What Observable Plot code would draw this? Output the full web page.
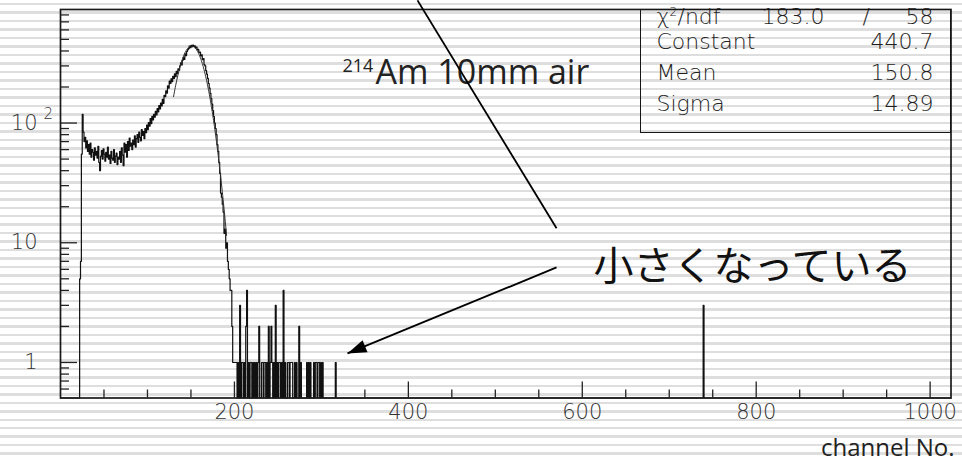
<!DOCTYPE html>
<html>
<head>
<meta charset="utf-8">
<script src="https://cdn.jsdelivr.net/npm/d3@7"></script>
<script src="https://cdn.jsdelivr.net/npm/@observablehq/plot@0.6"></script>
<style>
  html, body { margin: 0; padding: 0; }
  body {
    width: 962px; height: 461px; overflow: hidden;
    background: repeating-linear-gradient(to bottom,
      #ffffff 0px, #ffffff 3px, #dedede 3px, #dedede 5.5px, #ffffff 5.5px, #ffffff 8.48px);
  }
  #wrap { position: relative; width: 962px; height: 461px; }
  #wrap svg { display: block; background: transparent; overflow: visible; }
  #statbox {
    position: absolute; left: 639.5px; top: 8.5px; width: 311.5px; height: 124.5px;
    border: 1.5px solid #151515; box-sizing: border-box; pointer-events: none;
  }
</style>
</head>
<body>
<div id="wrap"><div id="statbox"></div></div>
<script>
// ---- spectrum: counts per channel, beginning at firstChannel ----
const firstChannel = 22;
const counts = [
  5, 7, 55, 118, 84,
  70, 76, 62, 71, 58, 66, 55, 68, 52, 60,
  57, 49, 62, 54, 58, 51, 64, 47, 40, 53,
  59, 50, 61, 55, 48, 57, 52, 63, 50, 54,
  46, 58, 51, 49, 60, 47, 53, 56, 45, 52,
  50, 58, 47, 62, 54, 44, 68, 57, 66, 52,
  70, 59, 75, 64, 68, 60, 72, 66, 78, 63,
  74, 80, 69, 84, 76, 71, 88, 79, 85, 74,
  90, 83, 96, 88, 101, 94, 109, 99, 114, 106,
  118, 112, 125, 117, 132, 124, 140, 131, 147, 139,
  158, 146, 170, 166, 186, 178, 204, 196, 224, 214,
  234, 222, 246, 236, 258, 244, 270, 258, 284, 276,
  300, 318, 306, 334, 352, 340, 378, 366, 396, 410,
  418, 440, 426, 446, 434, 448, 436, 442, 424, 430,
  408, 412, 388, 392, 364, 372, 338, 346, 308, 300,
  274, 256, 236, 214, 196, 177, 160, 144, 127, 113,
  100, 90, 80, 66, 58, 47, 38, 26, 24, 21,
  18, 12, 13, 9, 10, 7, 6, 5, 4, 4,
  2, 1, 1, 1, 1, 1, 0, 1, 0, 3,
  0, 1, 1, 0, 1, 0, 2, 4, 0, 1,
  0, 1, 1, 0, 1, 0, 1, 0, 1, 0,
  1, 2, 0, 0, 1, 1, 0, 1, 1, 0,
  1, 0, 2, 0, 1, 2, 1, 0, 1, 0,
  3, 0, 1, 0, 1, 1, 0, 1, 0, 4,
  0, 1, 0, 0, 1, 1, 0, 1, 1, 1,
  0, 0, 1, 0, 1, 0, 0, 2, 0, 1,
  0, 0, 0, 0, 0, 0, 1, 0, 1, 0,
  1, 0, 0, 0, 1, 0, 1, 1, 0, 1,
  1, 0, 1, 0, 1, 0, 0, 0, 0, 0,
  0, 0, 0, 0, 0, 0, 0, 0, 0, 1
];
// isolated entries far above the peak
const extraChannels = [739];
const extraCounts = [3];
const nChannels = 1024;

// ---- Gaussian fit results ----
const statNames = ["Constant", "Mean", "Sigma"];
const statValues = [440.7, 150.8, 14.89];
const chi2 = 183.0;
const ndf = 58;
const fitRange = [130, 191];

// ---- axes ----
const xMajor = [200, 400, 600, 800, 1000];
const xLabels = ["200", "400", "600", "800", "1000"];
const xMinor = [50, 100, 150, 250, 300, 350, 450, 500, 550, 650, 700, 750, 850, 900, 950];
const yMajor = [1, 10, 100];
const yLabelBase = ["1", "10", "10"];
const yLabelExp = ["", "", "2"];
const yMinor = [0.6, 0.7, 0.8, 0.9, 2, 3, 4, 5, 6, 7, 8, 9, 20, 30, 40, 50, 60, 70, 80, 90, 200, 300, 400, 500, 600, 700, 800];

// ---- pointers, in (channel, counts) ----
const pointerLine = [{x1: 410.5, y1: 1058, x2: 570.4, y2: 13.2}];
const pointerArrow = [{x1: 570.4, y1: 6.22, x2: 330, y2: 1.19}];

// ---- layout ----
const W = 962, H = 461;
const M = {top: 9, right: 11.5, bottom: 63.5, left: 60};
const frameW = W - M.left - M.right;
const frameH = H - M.top - M.bottom;
const yDomain = [0.505, 888];
const xDomain = [0, nChannels];

const axisFont = "'DejaVu Sans', sans-serif";
const textFont = "'Open Sans', 'Liberation Sans', sans-serif";

// histogram outline: one step per channel, empty channels sit on the floor
const binCount = new Array(nChannels).fill(0);
counts.forEach((n, i) => { binCount[firstChannel + i] = n; });
extraChannels.forEach((c, i) => { binCount[c] = extraCounts[i]; });
const steps = binCount.map((n, ch) => ({ch, n}));
steps.push({ch: nChannels, n: binCount[nChannels - 1]});
const floorY = yDomain[0];

// fitted Gaussian from the quoted parameters
const [C, mu, sigma] = statValues;
const fitPts = d3.range(fitRange[0], fitRange[1] + 0.001, 0.5)
  .map(x => ({x, y: C * Math.exp(-0.5 * ((x - mu) / sigma) ** 2)}));

// arrowhead orientation in screen space
const sx = d3.scaleLinear(xDomain, [M.left, W - M.right]);
const sy = d3.scaleLog(yDomain, [H - M.bottom, M.top]);
const pa = pointerArrow[0];
const headAngle = Math.atan2(sy(pa.y2) - sy(pa.y1), sx(pa.x2) - sx(pa.x1)) * 180 / Math.PI;
const arrowHead = {
  draw(ctx) {
    const L = 19, B = 13;
    ctx.moveTo(0, 0);
    ctx.lineTo(-L, -B / 2);
    ctx.lineTo(-L, B / 2);
    ctx.closePath();
  }
};

// free-standing text, placed by page position of its baseline
const at = (X, Y, text, o = {}) => Plot.text([text], {
  text: d => d, frameAnchor: "top-left", dx: X - M.left, dy: Y - M.top,
  lineAnchor: "bottom", textAnchor: "start", ...o
});
const statFont = {fontFamily: axisFont, fontSize: 22, fontWeight: 200, fill: "#1e1e1e"};
const statBase = [48, 79, 110];

const chart = Plot.plot({
  width: W, height: H,
  marginTop: M.top, marginRight: M.right, marginBottom: M.bottom, marginLeft: M.left,
  x: {domain: xDomain, axis: null},
  y: {type: "log", domain: yDomain, axis: null},
  style: {background: "transparent", overflow: "visible"},
  marks: [
    // ticks inside the frame
    Plot.ruleY(yMajor, {y: d => d, insetRight: frameW - 17, stroke: "#222", strokeWidth: 1.3}),
    Plot.ruleY(yMinor, {y: d => d, insetRight: frameW - 9, stroke: "#222", strokeWidth: 1.3}),
    Plot.ruleX(xMajor, {x: d => d, insetTop: frameH - 16, stroke: "#222", strokeWidth: 1.3}),
    Plot.ruleX(xMinor, {x: d => d, insetTop: frameH - 8, stroke: "#222", strokeWidth: 1.3}),

    // tick labels
    Plot.text(yMajor, {y: d => d, frameAnchor: "left", dx: -23, textAnchor: "end",
      text: (d, i) => yLabelBase[i], fontFamily: axisFont, fontSize: 21, fontWeight: 200, fill: "#333"}),
    Plot.text(yMajor, {y: d => d, frameAnchor: "left", dx: -17, dy: -9, textAnchor: "start",
      text: (d, i) => yLabelExp[i], fontFamily: axisFont, fontSize: 15, fontWeight: 200, fill: "#333"}),
    Plot.text(xMajor, {x: d => d, frameAnchor: "bottom", dy: 21,
      text: (d, i) => xLabels[i], fontFamily: axisFont, fontSize: 21, fontWeight: 200, fill: "#333"}),

    // spectrum and fit
    Plot.line(steps, {x: "ch", y: d => Math.max(d.n, floorY), curve: "step-after",
      stroke: "#111", strokeWidth: 1.2}),
    Plot.line(fitPts, {x: "x", y: "y", stroke: "#333", strokeWidth: 1}),

    Plot.frame({stroke: "#1a1a1a", strokeWidth: 1.7}),

    // statistics box contents
    at(656, 23, "\u03c7", statFont),
    at(669, 15, "2", {...statFont, fontSize: 12}),
    at(677, 23, "/ndf", statFont),
    at(824, 23, chi2.toFixed(1), {...statFont, textAnchor: "end"}),
    at(862, 23, "/", statFont),
    at(933, 23, String(ndf), {...statFont, textAnchor: "end"}),
    ...statNames.map((s, i) => at(656, statBase[i], s, statFont)),
    ...statValues.map((v, i) => at(933, statBase[i], String(v), {...statFont, textAnchor: "end"})),

    // annotations
    at(342, 71, "214", {fontFamily: textFont, fontSize: 18, fill: "#222"}),
    at(375, 83, "Am 10mm air", {fontFamily: textFont, fontSize: 34, fill: "#222"}),
    at(593, 279, "小さくなっている", {fontFamily: "'Noto Sans CJK JP', sans-serif", fontSize: 40, fill: "#111"}),
    at(954, 455, "channel No.", {fontFamily: textFont, fontSize: 24, fill: "#222", textAnchor: "end"}),

    Plot.link(pointerLine, {x1: "x1", y1: "y1", x2: "x2", y2: "y2", stroke: "#000", strokeWidth: 1.8}),
    Plot.link(pointerArrow, {x1: "x1", y1: "y1", x2: "x2", y2: "y2", stroke: "#000", strokeWidth: 1.8}),
    Plot.dot(pointerArrow, {x: "x2", y: "y2", symbol: arrowHead, rotate: headAngle, r: 10, fill: "#000", stroke: null})
  ]
});

document.getElementById("wrap").prepend(chart);
</script>
</body>
</html>
